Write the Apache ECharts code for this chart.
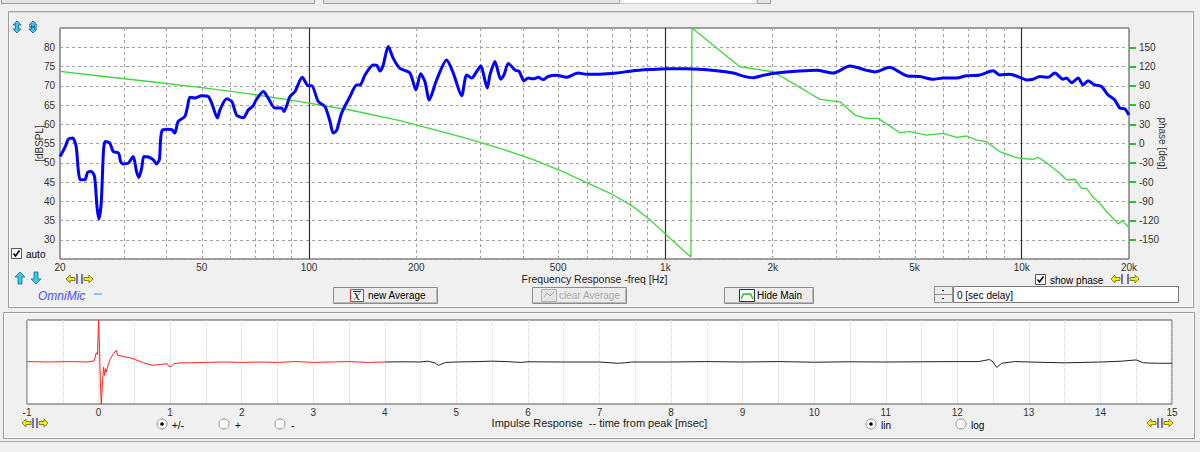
<!DOCTYPE html>
<html><head><meta charset="utf-8">
<script src="https://cdn.jsdelivr.net/npm/echarts@6/dist/echarts.min.js"></script>
<style>html,body{margin:0;padding:0;background:#f0f0f0;overflow:hidden}#c{width:1200px;height:452px}</style>
</head><body><div id="c"></div>
<script>
// ---------- data ----------
const splFreq = [20,20.7,21.1,21.7,22.2,22.5,22.8,23.5,23.9,24.5,25.0,25.4,25.7,26.1,26.5,26.8,27.6,28.2,29.2,29.6,30.1,31.1,32.1,32.8,33.3,33.9,34.4,35.4,36.5,37.3,38.0,38.3,38.7,39.9,41.2,42.0,42.9,44.8,45.6,46.3,47.8,49.9,52.1,53.3,55.3,56.2,58.7,60.7,62.6,65.4,67.5,69.7,71.0,74.4,76.8,80.2,83.8,85.0,88.4,91.3,95.7,99.5,101.7,106.1,110.8,114.5,116.9,119.5,123.4,130.3,136.0,139.0,143.5,151.4,154.8,158.1,161.5,166.8,172.3,179.9,191.9,199.5,205.6,211.4,217.4,228.0,243.2,253.9,268.0,276.8,286.0,295.4,303.1,316.2,321.8,332.4,344.9,352.4,362.2,378.2,388.8,400.8,412.2,425.6,439.6,454.0,468.8,495,528,569,601,655,730,812,905,1008,1147,1392,1550,1653,1764,1881,2052,2384,2656,2958,3294,3669,3872,4266,4454,4751,5176,5640,6017,6561,6998,7630,8312,8680,9260,9986,10314,10764,11240,11858,12383,13066,13355,13792,14395,14868,15356,16036,16744,17474,18248,18846,19464,20000];
const splDb = [51.6,54.2,56.1,56.4,54.2,48.2,45.6,45.6,47.5,47.7,46.4,38.6,35.4,39.5,53.4,55.5,55.1,52.9,52.5,50.3,49.7,49.9,51.6,47.7,46.2,48.6,51.6,51.5,50.8,49.7,50.8,55.9,58.4,58.7,58.6,57.7,60.7,62,64.6,67,66.8,67.4,67.2,65.5,61.6,63.7,66.6,65.9,62.4,61.7,63.7,64.8,66.3,68.5,66.8,64.2,64.2,63.3,67.2,68.5,72.2,70,70,65.9,64.6,60.7,57.7,58.4,62.9,67.2,70.2,70.2,72.8,75.4,75.3,73.8,75.4,80.2,77.1,74.5,73.3,68.9,73.1,71.1,66.3,71.5,76.7,73.3,67.4,72.8,72,73.7,75.1,69.4,72.8,76.3,71.7,72.8,75.8,74.1,73.7,71.3,72,71.8,72.2,71.6,72.4,72.7,72.2,73.3,73,73,73.3,73.9,74.2,74.4,74.4,73.9,73.3,72.5,72.1,72.7,73.3,73.8,74,73.3,75.1,74,73.6,74.8,74,72.6,72.4,71.7,72,72,72.6,72.8,73.9,72.8,73,72,71.5,71.7,72.4,72.2,73.3,71.7,72,70.8,72,70.2,71.3,70.2,69.8,67.6,66.3,64.2,64,62.4];
const phaseFreq = [20,25.9,35,49.4,68.2,94.3,130.3,179.9,230,276.8,301.7,350,425.6,510,601,700,812,905,1008,1100,1179,1187,1618,2006,2384,2544,2714,3089,3402,3669,3954,4550,4853,5406,6017,6561,6998,7468,7964,8680,9460,9878,10764,11117,11736,12790,13355,14093,14715,15198,15858,16558,17292,18048,18638,19174,19886,20000];
const phaseDeg = [112.4,105.2,97,87.5,77.4,65.4,52.2,35.8,20.1,8.1,1.7,-9,-25.2,-42.6,-60.9,-77.6,-98.4,-119,-142.5,-162,-177,180,119.6,111.8,87.5,78,68.8,65,44.4,39.2,39.2,16.8,18.4,13.2,15.9,9.7,11.7,5.4,2.8,-12.8,-20.5,-23,-24.6,-21.5,-29.9,-46.4,-56.8,-55.7,-69.8,-69.8,-83.8,-93.1,-106.2,-116.5,-125.3,-120.2,-129.5,-131];
const impTimeRed = [-1,-0.7,-0.4,-0.15,-0.06,-0.032,-0.015,0,0.014,0.025,0.038,0.052,0.07,0.084,0.097,0.108,0.126,0.164,0.21,0.248,0.266,0.3,0.37,0.44,0.51,0.63,0.75,0.86,0.96,0.98,1.01,1.05,1.14,1.28,1.5,1.75,2.0,2.25,2.5,2.75,3.0,3.25,3.5,3.75,4.0];
const impValRed = [0.01,0.0,0.01,0.0,0.03,0.22,0.18,1.0,0.3,-0.5,-1.0,-0.55,-0.12,-0.32,-0.16,-0.24,-0.12,0.08,0.2,0.28,0.16,0.15,0.12,0.1,0.06,-0.02,-0.08,-0.06,-0.04,-0.1,-0.12,-0.04,-0.02,-0.02,-0.01,0.0,-0.01,0.0,-0.01,0.01,-0.01,0.0,0.01,-0.01,0.0];
const impTimeBlack = [4.0,4.3,4.5,4.6,4.7,4.75,4.85,5.0,5.3,5.5,5.7,5.8,5.9,6.0,6.5,7.0,7.25,7.35,7.45,8.0,8.5,9.0,9.5,10.0,10.5,11.0,11.5,12.0,12.3,12.45,12.5,12.55,12.62,12.8,13.0,13.5,14.0,14.3,14.5,14.6,14.8,15.0];
const impValBlack = [0.0,0.005,0.0,0.02,-0.02,-0.08,-0.01,0.0,0.01,0.02,0.01,0.0,-0.01,0.005,0.0,0.0,-0.03,-0.02,0.0,0.0,0.01,0.0,0.01,-0.005,0.005,0.0,0.005,0.01,0.01,0.06,0.0,-0.13,-0.03,0.01,0.0,-0.02,0.0,0.02,0.05,-0.02,-0.03,-0.03];
const freqTickValues = [20,50,100,200,500,1000,2000,5000,10000,20000];
const freqTickLabels = ['20','50','100','200','500','1k','2k','5k','10k','20k'];
const gridFreqMinor = [30,40,50,60,70,80,90,200,300,400,500,600,700,800,900,2000,3000,4000,5000,6000,7000,8000,9000];
const gridFreqMajor = [100,1000,10000];
const phaseTicks = [-150,-120,-90,-60,-30,0,30,60,90,120,150];

// ---------- chart ----------
const L = Math.log10;
const FONT = '"Liberation Sans", Arial, sans-serif';
const chart = echarts.init(document.getElementById('c'), null, {renderer:'svg'});

function labelFor(v){
  for (let i=0;i<freqTickValues.length;i++){ if (Math.abs(L(freqTickValues[i])-v) < 1e-6) return freqTickLabels[i]; }
  return '';
}
function R(x,y,w,h,fill,stroke,lw){ return {type:'rect', silent:true, shape:{x:x,y:y,width:w,height:h}, style:{fill:fill, stroke:stroke||null, lineWidth:lw||1}}; }
function T(x,y,t,o){ return {type:'text', silent:true, x:x, y:y, style:Object.assign({text:t, fill:'#000', font:'10px '+FONT, textVerticalAlign:'middle', verticalAlign:'middle'}, o||{})}; }
function PL(pts,stroke,lw){ return {type:'polyline', silent:true, shape:{points:pts}, style:{stroke:stroke, lineWidth:lw||1, fill:null}}; }
function PG(pts,fill,stroke){ return {type:'polygon', silent:true, shape:{points:pts}, style:{fill:fill, stroke:stroke, lineWidth:0.8}}; }
function CB(x,y){ return [R(x+0.5,y+0.5,10,10,'#fff','#555'), PL([[x+2.5,y+5.5],[x+4.5,y+8],[x+8.5,y+2.5]],'#000',1.6)]; }
function RADIO(x,y,sel){ const a=[{type:'circle', silent:true, shape:{cx:x,cy:y,r:5}, style:{fill:'#fff', stroke:'#8a8a8a', lineWidth:1}}]; if(sel) a.push({type:'circle', silent:true, shape:{cx:x,cy:y,r:1.8}, style:{fill:'#000'}}); return a; }
function YL(x,y){ return [PG([[x,y],[x+4,y-4],[x+4,y-1.5],[x+9,y-1.5],[x+9,y+1.5],[x+4,y+1.5],[x+4,y+4]],'#f2f200','#6a6a00'), PL([[x+11,y-5],[x+11,y+5]],'#4a4ab0',1.5)]; }
function YR(x,y){ return [PL([[x,y-5],[x,y+5]],'#4a4ab0',1.5), PG([[x+11,y],[x+7,y-4],[x+7,y-1.5],[x+2,y-1.5],[x+2,y+1.5],[x+7,y+1.5],[x+7,y+4]],'#f2f200','#6a6a00')]; }
function UP(x,y){ return PG([[x,y-6],[x+5,y-1],[x+2,y-1],[x+2,y+6],[x-2,y+6],[x-2,y-1],[x-5,y-1]],'#30d0e0','#2060a0'); }
function DN(x,y){ return PG([[x,y+6],[x+5,y+1],[x+2,y+1],[x+2,y-6],[x-2,y-6],[x-2,y+1],[x-5,y+1]],'#30d0e0','#2060a0'); }
function UD(x,y){ return PG([[x,y-6],[x+4,y-2],[x+1.5,y-2],[x+1.5,y+2],[x+4,y+2],[x,y+6],[x-4,y+2],[x-1.5,y+2],[x-1.5,y-2],[x-4,y-2]],'#30d0e0','#2050a0'); }
function BTN(x,y,w,h){ return [R(x+0.5,y+0.5,w,h,'#ececec','#8c8c8c'), PL([[x+1.5,y+h-0.5],[x+w-0.5,y+h-0.5],[x+w-0.5,y+1.5]],'#b8b8b8',1)]; }

const g = [].concat(
  [R(1.5,-3,313,6.5,'#e4e4e4','#a0a0a0'), R(323.5,-3,296,6.5,'#e4e4e4','#a0a0a0'), R(620,-3,137,6.5,'#ffffff','#c8c8c8'), R(757.5,-3,13,6.5,'#e4e4e4','#a0a0a0')],
  [R(8.5,11.5,1185,296,null,'#9a9a9a'), R(9.5,12.5,1183,294,null,'#ffffff'), PL([[9,12],[1193,12]],'#b0b0b0',1)],
  [R(3.5,312.5,1191,126,null,'#9a9a9a'), R(4.5,313.5,1189,124,null,'#ffffff'), PL([[0,441.5],[1200,441.5]],'#a8a8a8',1)],
  [UD(17,27), UD(33,27), PL([[29,27],[37,27]],'#2050a0',1.2)],
  CB(11,248), [T(26,254,'auto')],
  [UP(20,278), DN(36,278)], YL(66,279), YR(82,279),
  [T(38,296,'OmniMic',{fill:'#4b4bff', font:'italic 12px '+FONT}), R(94,293,8,2,'#88c4ff')],
  BTN(333,287,104,16), [R(350.5,289.5,13,12,'#fff','#e03030'), T(357,296,'x',{font:'italic 12px "DejaVu Serif", serif', textAlign:'center', align:'center', fill:'#222'}), PL([[353,291.5],[361,291.5]],'#222',1), T(368,295.5,'new Average')],
  BTN(532,287,94,16), [R(541.5,289.5,15,12,'#e4e4e4','#b4b4b4'), PL([[544,297],[547,293],[550,296],[554,292]],'#b0b0b0',1), T(559,295.5,'clear Average',{fill:'#a8a8a8'})],
  BTN(724,287,89,16), [R(739.5,289.5,15,12,'#fff','#303030'), PL([[741,299],[743.5,294],[750.5,294],[753,299]],'#20c020',1.5), T(757,295.5,'Hide Main')],
  CB(1035,274), [T(1050,280,'show phase')], YL(1111,279), YR(1128,279),
  [R(934.5,286.5,18,8,'#ececec','#909090'), R(934.5,294.5,18,8,'#ececec','#909090'), PL([[942,290.5],[944,290.5]],'#000',1), PL([[942,298.5],[944,298.5]],'#000',1),
   R(953.5,286.5,225,16,'#ffffff','#7a7a7a'), T(957,295,'0 [sec delay]')],
  YL(22,423), YR(37,423), YL(1147,423), YR(1162,423),
  RADIO(162,424,true), [T(172,425,'+/-')], RADIO(224,424,false), [T(235,425,'+')], RADIO(280,424,false), [T(291,425,'-')],
  RADIO(871,424,true), [T(881,425,'lin')], RADIO(961,424,false), [T(971,425,'log')]
);

const lblStyle = {color:'#333', fontSize:10, fontFamily:FONT};
const option = {
  animation:false,
  backgroundColor:'#f0f0f0',
  textStyle:{fontFamily:FONT},
  grid:[
    {left:60, top:28, width:1069, height:231, show:true, backgroundColor:'#ffffff', borderColor:'#404040', borderWidth:1, containLabel:false},
    {left:27, top:320, width:1145, height:84, show:true, backgroundColor:'#ffffff', borderColor:'#555555', borderWidth:1, containLabel:false}
  ],
  xAxis:[
    {gridIndex:0, type:'value', min:L(20), max:L(20000), axisLine:{show:false}, axisTick:{show:false}, splitLine:{show:false},
     axisLabel:Object.assign({customValues:freqTickValues.map(L), formatter:function(v){return labelFor(v);}, margin:3}, lblStyle),
     name:'Frequency Response -freq [Hz]', nameLocation:'middle', nameGap:14, nameMoveOverlap:false, nameTextStyle:{color:'#222', fontSize:10.5, fontFamily:FONT}},
    {gridIndex:1, type:'value', min:-1, max:15, interval:0.5, axisLine:{show:false}, axisTick:{show:false},
     splitLine:{show:true, lineStyle:{color:'#d4d4d4', type:'dotted', width:1}},
     axisLabel:Object.assign({formatter:function(v){return Math.abs(v-Math.round(v))<1e-9 ? String(Math.round(v)) : '';}, margin:3}, lblStyle),
     name:'Impulse Response  -- time from peak [msec]', nameLocation:'middle', nameGap:13, nameMoveOverlap:false, nameTextStyle:{color:'#222', fontSize:11, fontFamily:FONT}}
  ],
  yAxis:[
    {gridIndex:0, type:'value', min:25, max:85, interval:5, axisLine:{show:false}, axisTick:{show:false},
     splitLine:{show:true, lineStyle:{color:'#a0a0a0', type:[3,3], width:1}},
     axisLabel:Object.assign({formatter:function(v){return (v<=25||v>=85)?'':String(v);}, margin:5}, lblStyle),
     name:'[dBSPL]', nameLocation:'middle', nameRotate:90, nameGap:16, nameMoveOverlap:false, nameTextStyle:{color:'#333', fontSize:10, fontFamily:FONT}},
    {gridIndex:0, type:'value', position:'right', min:-180, max:180, interval:30, axisLine:{show:false},
     axisTick:{show:true, inside:false, length:7, customValues:phaseTicks, lineStyle:{color:'#22c822', width:2}},
     splitLine:{show:false},
     axisLabel:Object.assign({customValues:phaseTicks, margin:10}, lblStyle),
     name:'phase [deg]', nameLocation:'middle', nameRotate:-90, nameGap:28, nameMoveOverlap:false, nameTextStyle:{color:'#333', fontSize:10, fontFamily:FONT}},
    {gridIndex:1, type:'value', min:-1, max:1, show:false}
  ],
  graphic:{elements:g},
  series:[
    {type:'line', xAxisIndex:0, yAxisIndex:0, data:[[L(20),25]], symbol:'none', lineStyle:{width:0}, silent:true, z:1,
     markLine:{silent:true, z:1, symbol:['none','none'], label:{show:false}, animation:false,
       data:[].concat(
         gridFreqMinor.map(function(f){return {xAxis:L(f), lineStyle:{color:'#a0a0a0', type:[3,3], width:1}};}),
         gridFreqMajor.map(function(f){return {xAxis:L(f), lineStyle:{color:'#303030', type:'solid', width:1.2}};})
       )}},
    {type:'line', xAxisIndex:0, yAxisIndex:1, data:phaseFreq.map(function(f,i){return [L(f), phaseDeg[i]];}),
     symbol:'none', lineStyle:{color:'#3cd83c', width:1.3}, z:3, silent:true},
    {type:'line', xAxisIndex:0, yAxisIndex:0, data:splFreq.map(function(f,i){return [L(f), splDb[i]];}),
     symbol:'none', smooth:0.25, lineStyle:{color:'#0000ff', width:3}, z:4, silent:true},
    {type:'line', xAxisIndex:1, yAxisIndex:2, data:impTimeRed.map(function(t,i){return [t, impValRed[i]];}),
     symbol:'none', lineStyle:{color:'#ff2020', width:1}, z:3, silent:true},
    {type:'line', xAxisIndex:1, yAxisIndex:2, data:impTimeBlack.map(function(t,i){return [t, impValBlack[i]];}),
     symbol:'none', lineStyle:{color:'#202020', width:1}, z:3, silent:true}
  ]
};
chart.setOption(option);
</script></body></html>
